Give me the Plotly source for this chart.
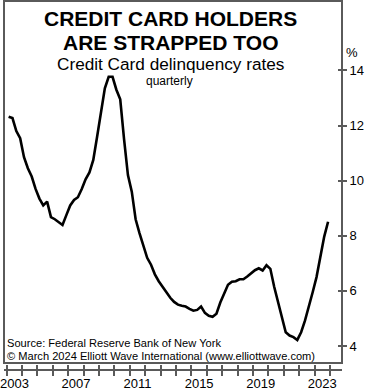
import plotly.graph_objects as go

# ---- data (quarterly, 2003Q1 .. 2023Q4), percent ----
start_year = 2003
delinquency = [
    12.32, 12.27, 11.80, 11.54, 10.85, 10.45, 10.15, 9.70,   # 2003-2004
    9.35, 9.10, 9.24, 8.68, 8.60, 8.50, 8.39, 8.75,          # 2005-2006
    9.10, 9.30, 9.40, 9.70, 10.05, 10.30, 10.75, 11.60,      # 2007-2008
    12.40, 13.35, 13.77, 13.77, 13.30, 12.95, 11.50, 10.20,  # 2009-2010
    9.60, 8.60, 8.10, 7.60, 7.20, 6.95, 6.60, 6.35,          # 2011-2012
    6.15, 5.98, 5.75, 5.60, 5.50, 5.46, 5.43, 5.35,          # 2013-2014
    5.28, 5.31, 5.43, 5.20, 5.10, 5.06, 5.17, 5.58,          # 2015-2016
    5.90, 6.22, 6.33, 6.35, 6.42, 6.42, 6.52, 6.65,          # 2017-2018
    6.75, 6.82, 6.74, 6.93, 6.80, 6.15, 5.60, 5.05,          # 2019-2020
    4.50, 4.38, 4.32, 4.22, 4.50, 4.92, 5.40, 5.95,          # 2021-2022
    6.50, 7.18, 7.97, 8.51,                                  # 2023
]
tick_years = list(range(2003, 2025))
label_years = [2003, 2007, 2011, 2015, 2019, 2023]
y_ticks = [4, 6, 8, 10, 12, 14]

x_vals = [start_year + (i + 0.5) / 4 for i in range(len(delinquency))]

FONT = "Arial, Liberation Sans, sans-serif"
AXIS_COLOR = "#5a5a5a"
X_RANGE = [2002.825, 2024.78]
Y_RANGE = [3.383, 16.52]

fig = go.Figure()
fig.add_trace(go.Scatter(x=x_vals, y=delinquency, mode="lines",
                         line=dict(color="black", width=2.6),
                         hoverinfo="skip", showlegend=False))
# invisible copies so that helper axes are drawn
fig.add_trace(go.Scatter(x=x_vals, y=delinquency, xaxis="x2", yaxis="y2",
                         mode="lines", line=dict(width=0), opacity=0,
                         hoverinfo="skip", showlegend=False))
fig.add_trace(go.Scatter(x=x_vals, y=delinquency, xaxis="x3", yaxis="y",
                         mode="lines", line=dict(width=0), opacity=0,
                         hoverinfo="skip", showlegend=False))

fy = 7 / 369

fig.update_layout(
    width=365, height=390,
    margin=dict(l=4, r=23, t=1, b=20, autoexpand=False),
    paper_bgcolor="white", plot_bgcolor="white",
    font=dict(family=FONT, color="black", size=13),
    xaxis=dict(range=X_RANGE, anchor="free", position=0, showgrid=False,
               zeroline=False, showline=True, linecolor=AXIS_COLOR, linewidth=1.5,
               ticks="outside", ticklen=5, tickwidth=1.5, tickcolor=AXIS_COLOR,
               tickvals=tick_years, showticklabels=False, fixedrange=True),
    xaxis2=dict(range=X_RANGE, overlaying="x", anchor="free", position=0,
                showgrid=False, zeroline=False, showline=False,
                ticks="inside", ticklen=5, tickwidth=1.5, tickcolor=AXIS_COLOR,
                tickvals=tick_years, showticklabels=False),
    xaxis3=dict(range=X_RANGE, overlaying="x", anchor="free", position=0,
                showgrid=False, zeroline=False, showline=False, ticks="",
                tickvals=[y + 0.5 for y in label_years],
                ticktext=[str(y) for y in label_years],
                tickfont=dict(size=13), ticklabelstandoff=4,
                ticklabeloverflow="allow"),
    yaxis=dict(range=Y_RANGE, domain=[fy, 1], side="right", anchor="x",
               showgrid=False, zeroline=False, showline=False,
               ticks="outside", ticklen=4, tickwidth=1.5, tickcolor=AXIS_COLOR,
               tickvals=y_ticks, ticktext=[str(v) for v in y_ticks],
               tickfont=dict(size=13), ticklabelstandoff=0,
               ticklabeloverflow="allow"),
    yaxis2=dict(range=Y_RANGE, domain=[fy, 1], overlaying="y", side="right",
                anchor="x", showgrid=False, zeroline=False, showline=False,
                ticks="inside", ticklen=4, tickwidth=1.5, tickcolor=AXIS_COLOR,
                tickvals=y_ticks, showticklabels=False),
    shapes=[dict(type="rect", xref="x domain", yref="y domain",
                 x0=0, x1=1, y0=0, y1=1,
                 line=dict(color=AXIS_COLOR, width=2), fillcolor="rgba(0,0,0,0)",
                 layer="above")],
)

def py(p):
    return (370 - p) / 369

def px(p):
    return (p - 4) / 338

ann = [
    dict(text="<b>CREDIT CARD HOLDERS</b>", x=px(170), y=py(18), size=21, xa="center"),
    dict(text="<b>ARE STRAPPED TOO</b>", x=px(170), y=py(42), size=21, xa="center"),
    dict(text="Credit Card delinquency rates", x=px(170), y=py(64), size=17.2, xa="center"),
    dict(text="quarterly", x=px(169), y=py(81), size=12, xa="center"),
    dict(text="%", x=px(352), y=py(53), size=13, xa="center"),
    dict(text="Source: Federal Reserve Bank of New York", x=px(4.5), y=py(343), size=11.1, xa="left"),
    dict(text="\u00a9 March 2024 Elliott Wave International (www.elliottwave.com)",
         x=px(4.5), y=py(356), size=11.1, xa="left"),
]
for a in ann:
    fig.add_annotation(text=a["text"], x=a["x"], y=a["y"], xref="paper", yref="paper",
                       xanchor=a["xa"], yanchor="middle", showarrow=False,
                       font=dict(family=FONT, size=a["size"], color="black"))

fig.write_html("out.html", config={"displayModeBar": False},
               post_script="document.body.style.margin='0';")
